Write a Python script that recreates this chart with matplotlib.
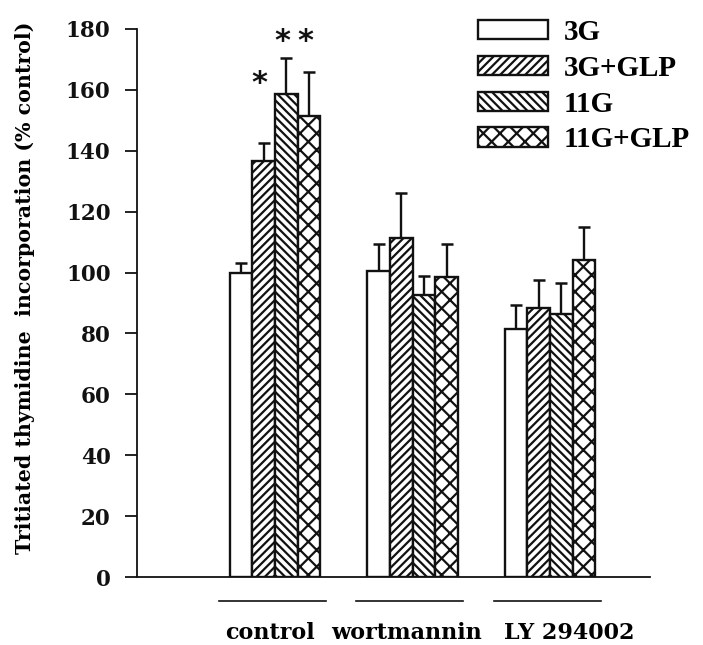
import matplotlib
matplotlib.use("Agg")
import matplotlib.pyplot as plt
import numpy as np

# Thymidine incorporation (% of control), mean and upper error
groups = ["control", "wortmannin", "LY 294002"]
series = ["3G", "3G+GLP", "11G", "11G+GLP"]
means = {
    "3G":      [100, 100.5, 81.5],
    "3G+GLP":  [136.5, 111.5, 88.5],
    "11G":     [158.5, 92.5, 86.5],
    "11G+GLP": [151.5, 98.5, 104],
}
errors = {
    "3G":      [3, 9, 8],
    "3G+GLP":  [6, 14.5, 9],
    "11G":     [12, 6.5, 10],
    "11G+GLP": [14.5, 11, 11],
}
# significance markers: (series, group index, label, height)
stars = [("3G+GLP", 0, "*", 162), ("11G", 0, "*", 176), ("11G+GLP", 0, "*", 176)]
yticks = [0, 20, 40, 60, 80, 100, 120, 140, 160, 180]

hatches = {"3G": "", "3G+GLP": "////", "11G": "\\\\\\\\", "11G+GLP": "xx"}

plt.rcParams["hatch.linewidth"] = 1.6
tick_font = {"family": "DejaVu Serif", "weight": "bold"}
legend_font = {"family": "Liberation Serif", "weight": "bold", "size": 21}

fig = plt.figure(figsize=(7.03, 6.45), dpi=100)
ax = fig.add_axes([137 / 703, 1 - 577 / 645, (650 - 137) / 703, (577 - 29) / 645])

x = np.arange(len(groups))
w = 0.165
offsets = (np.arange(len(series)) - 1.5) * w

handles = []
for i, s in enumerate(series):
    pos = x + offsets[i]
    b = ax.bar(pos, means[s], width=w, facecolor="white", edgecolor="#111111",
               linewidth=1.7, hatch=hatches[s], zorder=2, label=s)
    ax.errorbar(pos, means[s], yerr=[np.zeros(len(groups)), errors[s]],
                fmt="none", ecolor="#111111", elinewidth=1.7, capsize=4.5,
                capthick=1.8, zorder=1)
    handles.append(b)

for s, g, lab, ypos in stars:
    i = series.index(s)
    ax.text(x[g] + offsets[i] - 0.03, ypos, lab, ha="center", va="center",
            fontsize=22, fontweight="bold", color="#111111")

ax.set_xlim(-1.004, 2.727)
ax.set_ylim(0, 180)
ax.set_yticks(yticks)
ax.set_yticklabels([str(t) for t in yticks], fontdict=tick_font, fontsize=15.5)
ax.tick_params(axis="y", direction="out", length=9, width=1.3, pad=10, colors="#111111")
ax.tick_params(axis="x", length=0, labelbottom=False)
for sp in ["top", "right"]:
    ax.spines[sp].set_visible(False)
for sp in ["left", "bottom"]:
    ax.spines[sp].set_linewidth(1.3)
    ax.spines[sp].set_color("#111111")

ax.set_ylabel("Tritiated thymidine  incorporation (% control)",
              fontdict=tick_font, fontsize=14.8)
ax.yaxis.set_label_coords(-(137 - 35) / 513, 0.5 + 15.5 / 548)

# group underlines and names below the axis
label_shift = [-0.035, -0.045, 0.14]
for g, name in enumerate(groups):
    ax.plot([x[g] - 0.41, x[g] + 0.37], [-7.9, -7.9], color="#111111",
            linewidth=1.2, clip_on=False)
    ax.text(x[g] + label_shift[g], -18.5, name, ha="center", va="center",
            fontdict=tick_font, fontsize=16, clip_on=False)

leg = ax.legend(handles=handles, labels=series, loc="upper left",
                bbox_to_anchor=(478 / 703, 1 - 19 / 645),
                bbox_transform=fig.transFigure, frameon=False,
                borderpad=0, borderaxespad=0, handlelength=2.4,
                handleheight=0.65, handletextpad=0.55, labelspacing=0.3,
                prop=legend_font)

fig.savefig("out.png", dpi=100, facecolor="white")
